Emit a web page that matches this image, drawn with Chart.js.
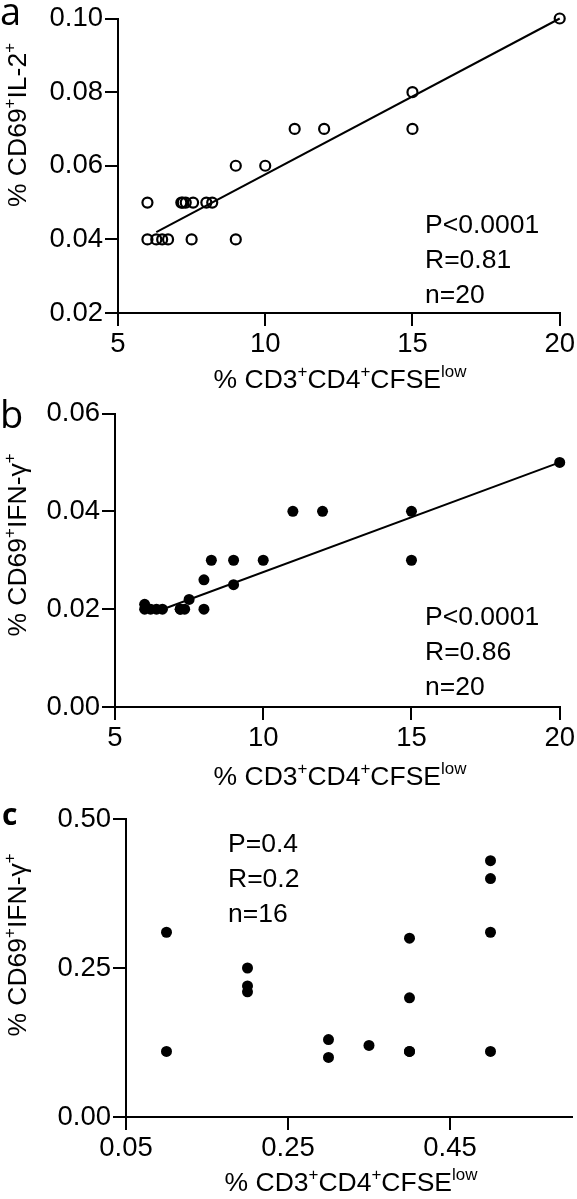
<!DOCTYPE html>
<html>
<head>
<meta charset="utf-8">
<script src="https://cdn.jsdelivr.net/npm/chart.js@4.4.1/dist/chart.umd.min.js"></script>
<style>
  body { margin: 0; background: #fff; }
  #wrap { position: relative; width: 577px; height: 1199px; }
  canvas { position: absolute; left: 0; }
</style>
</head>
<body>
<div id="wrap">
  <canvas id="panelA" width="577" height="395" style="top:0px"></canvas>
  <canvas id="panelB" width="577" height="400" style="top:395px"></canvas>
  <canvas id="panelC" width="577" height="404" style="top:795px"></canvas>
</div>
<script>
// panel a : CD69+IL-2+ vs CFSE low
const aX = [6, 6, 6.3, 6.5, 6.7, 7.15, 7.3, 7.55, 7.5, 8.0, 8.2, 9, 9, 10, 11, 12, 15, 15, 20, 7.2];
const aY = [0.05, 0.04, 0.04, 0.04, 0.04, 0.05, 0.05, 0.05, 0.04, 0.05, 0.05, 0.06, 0.04, 0.06, 0.07, 0.07, 0.08, 0.07, 0.10, 0.05];
const aFitX = [6.3, 20];
const aFitY = [0.042, 0.100];
const aXTicks = [5, 10, 15, 20];
const aYTicks = [0.02, 0.04, 0.06, 0.08, 0.10];

// panel b : CD69+IFN-g+ vs CFSE low
const bX = [6, 6, 6.2, 6.4, 6.6, 7.2, 7.35, 7.5, 8, 8, 8.25, 9, 9, 10, 11, 12, 15, 15, 20, 7.2];
const bY = [0.021, 0.020, 0.020, 0.020, 0.020, 0.020, 0.020, 0.022, 0.020, 0.026, 0.030, 0.030, 0.025, 0.030, 0.040, 0.040, 0.040, 0.030, 0.050, 0.020];
const bFitX = [6.75, 20];
const bFitY = [0.0203, 0.050];
const bXTicks = [5, 10, 15, 20];
const bYTicks = [0, 0.02, 0.04, 0.06];

// panel c
const cX = [0.10, 0.10, 0.20, 0.20, 0.20, 0.30, 0.30, 0.35, 0.40, 0.40, 0.40, 0.50, 0.50, 0.50, 0.50, 0.40];
const cY = [0.31, 0.11, 0.25, 0.22, 0.21, 0.13, 0.10, 0.12, 0.30, 0.20, 0.11, 0.43, 0.40, 0.31, 0.11, 0.11];
const cXTicks = [0.05, 0.25, 0.45];
const cYTicks = [0, 0.25, 0.50];

const FONT = '"Liberation Sans", Arial, sans-serif';
const LABEL_FONT = '"Open Sans", "DejaVu Sans", sans-serif';

const xTitle = [['% CD3'], ['+', 1], ['CD4'], ['+', 1], ['CFSE'], ['low', 1]];
const yTitleIL2 = [['% CD69'], ['+', 1], ['IL-2'], ['+', 1]];
const yTitleIFN = [['% CD69'], ['+', 1], ['IFN-γ'], ['+', 1]];

function pts(xs, ys) {
  return xs.map((x, i) => ({ x: x, y: ys[i] }));
}

// draws text made of normal and superscript pieces
function drawRich(ctx, it) {
  const size = it.size || 26.5;
  const fam = it.family || FONT;
  const weight = it.weight || 'normal';
  ctx.save();
  ctx.translate(it.x, it.y);
  if (it.rotate) ctx.rotate(it.rotate);
  ctx.fillStyle = '#000';
  ctx.textBaseline = 'alphabetic';
  ctx.textAlign = 'left';
  const widths = it.parts.map(p => {
    ctx.font = weight + ' ' + (p[1] ? size * 0.64 : size) + 'px ' + fam;
    return ctx.measureText(p[0]).width;
  });
  const total = widths.reduce((s, w) => s + w, 0);
  let cx = it.align === 'left' ? 0 : -total / 2;
  it.parts.forEach((p, i) => {
    ctx.font = weight + ' ' + (p[1] ? size * 0.64 : size) + 'px ' + fam;
    ctx.fillText(p[0], cx, p[1] ? -size * 0.42 : 0);
    cx += widths[i];
  });
  ctx.restore();
}

const richText = {
  id: 'richText',
  afterDraw(chart, args, opts) {
    (opts.items || []).forEach(it => drawRich(chart.ctx, it));
  }
};

function axis(min, max, ticks, fmt, fit) {
  return {
    type: 'linear',
    min: min,
    max: max,
    afterBuildTicks: s => { s.ticks = ticks.map(v => ({ value: v })); },
    afterFit: fit,
    ticks: {
      callback: v => fmt(v),
      font: { family: FONT, size: 27.5 },
      color: '#000',
      padding: 2,
      maxRotation: 0,
      autoSkip: false
    },
    grid: { drawOnChartArea: false, drawTicks: true, tickLength: 13, color: '#000', lineWidth: 2 },
    border: { display: true, color: '#000', width: 2 }
  };
}

function makePanel(id, cfg) {
  const canvas = document.getElementById(id);
  const h = canvas.height;
  new Chart(canvas.getContext('2d'), {
    type: 'scatter',
    data: { datasets: cfg.datasets },
    options: {
      responsive: false,
      animation: false,
      layout: { padding: { top: cfg.top, right: cfg.right, left: 0, bottom: 0 } },
      scales: {
        x: axis(cfg.xMin, cfg.xMax, cfg.xTicks, cfg.xFmt, s => { s.height = h - cfg.bottom; }),
        y: axis(cfg.yMin, cfg.yMax, cfg.yTicks, cfg.yFmt, s => { s.width = cfg.left; })
      },
      plugins: {
        legend: { display: false },
        tooltip: { enabled: false },
        richText: { items: cfg.texts }
      }
    },
    plugins: [richText]
  });
}

function fitLine(xs, ys) {
  return {
    data: pts(xs, ys),
    showLine: true,
    borderColor: '#000',
    borderWidth: 2,
    pointRadius: 0,
    clip: false
  };
}

const int = v => String(v);
const two = v => v.toFixed(2);

makePanel('panelA', {
  top: 18, right: 15, left: 118, bottom: 313,
  xMin: 5, xMax: 20, xTicks: aXTicks, xFmt: int,
  yMin: 0.02, yMax: 0.10, yTicks: aYTicks, yFmt: two,
  datasets: [
    {
      data: pts(aX, aY),
      pointRadius: 5,
      pointBorderWidth: 2.2,
      pointBorderColor: '#000',
      pointBackgroundColor: 'rgba(0,0,0,0)',
      clip: false
    },
    fitLine(aFitX, aFitY)
  ],
  texts: [
    { parts: [['a']], x: 0, y: 25, size: 38, family: LABEL_FONT, align: 'left' },
    { parts: yTitleIL2, x: 26, y: 125, rotate: -Math.PI / 2 },
    { parts: xTitle, x: 340, y: 388 },
    { parts: [['P<0.0001']], x: 425, y: 233, align: 'left' },
    { parts: [['R=0.81']], x: 425, y: 268, align: 'left' },
    { parts: [['n=20']], x: 425, y: 303, align: 'left' }
  ]
});

makePanel('panelB', {
  top: 16, right: 17, left: 115, bottom: 312,
  xMin: 5, xMax: 20, xTicks: bXTicks, xFmt: int,
  yMin: 0, yMax: 0.06, yTicks: bYTicks, yFmt: two,
  datasets: [
    {
      data: pts(bX, bY),
      pointRadius: 5.5,
      pointBorderWidth: 0,
      pointBackgroundColor: '#000',
      clip: false
    },
    fitLine(bFitX, bFitY)
  ],
  texts: [
    { parts: [['b']], x: 0, y: 33, size: 38, family: LABEL_FONT, align: 'left' },
    { parts: yTitleIFN, x: 26, y: 150, rotate: -Math.PI / 2 },
    { parts: xTitle, x: 340, y: 390 },
    { parts: [['P<0.0001']], x: 425, y: 230, align: 'left' },
    { parts: [['R=0.86']], x: 425, y: 265, align: 'left' },
    { parts: [['n=20']], x: 425, y: 300, align: 'left' }
  ]
});

makePanel('panelC', {
  top: 24, right: 0, left: 126, bottom: 322,
  xMin: 0.05, xMax: 0.60, xTicks: cXTicks, xFmt: two,
  yMin: 0, yMax: 0.50, yTicks: cYTicks, yFmt: two,
  datasets: [
    {
      data: pts(cX, cY),
      pointRadius: 5.5,
      pointBorderWidth: 0,
      pointBackgroundColor: '#000',
      clip: false
    }
  ],
  texts: [
    { parts: [['c']], x: 2, y: 30, size: 30, weight: 'bold', family: LABEL_FONT, align: 'left' },
    { parts: yTitleIFN, x: 26, y: 150, rotate: -Math.PI / 2 },
    { parts: xTitle, x: 351, y: 396 },
    { parts: [['P=0.4']], x: 228, y: 57, align: 'left' },
    { parts: [['R=0.2']], x: 228, y: 92, align: 'left' },
    { parts: [['n=16']], x: 228, y: 127, align: 'left' }
  ]
});
</script>
</body>
</html>
